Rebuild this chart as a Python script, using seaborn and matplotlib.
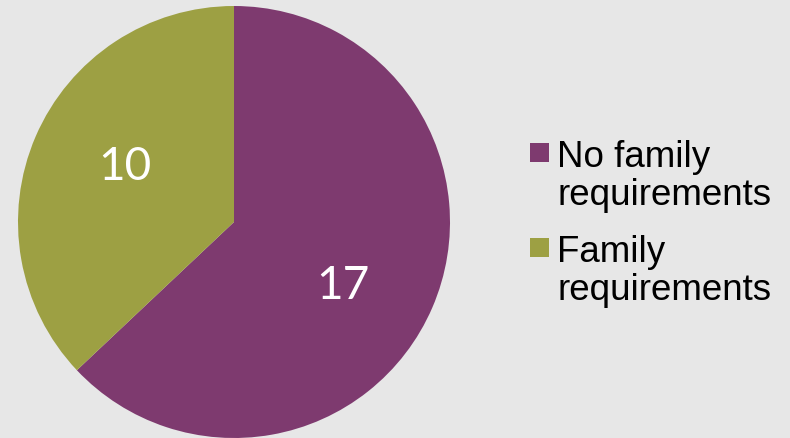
import matplotlib
matplotlib.use("Agg")
import numpy as np
import matplotlib.pyplot as plt
from matplotlib.patches import Rectangle
import seaborn as sns

categories = ["No family\nrequirements", "Family\nrequirements"]
counts = [17, 10]
colors = ["#7E3A6F", "#9DA043"]

sns.set_theme(style="white")
plt.rcParams["font.family"] = ["Liberation Sans", "DejaVu Sans"]

W, H = 790, 438
bg = "#E7E7E7"
fig = plt.figure(figsize=(W / 100, H / 100), dpi=100, facecolor=bg)

# pie axes: square box of 432 px, left edge at x=18
ax = fig.add_axes([18 / W, 0 / H, 432 / W, 432 / H])
ax.set_facecolor(bg)
total = sum(counts)
wedges, texts, autotexts = ax.pie(
    counts,
    colors=colors,
    startangle=90,
    counterclock=False,
    autopct=lambda p: f"{round(p * total / 100):d}",
    wedgeprops=dict(linewidth=0),
    textprops=dict(color="white", fontsize=33, family=["Lato", "DejaVu Sans"]),
)
ax.set_xlim(-1, 1)
ax.set_ylim(-1, 1)
ax.set_aspect("equal")
ax.axis("off")

# value labels sit a little clockwise of each wedge's middle
label_r = 0.575
half_digit = 17.5 / 216  # half the digit height in data units
for w, t in zip(wedges, autotexts):
    ang = np.deg2rad((w.theta1 + w.theta2) / 2 - 5.5)
    t.set_position((label_r * np.cos(ang), label_r * np.sin(ang) - half_digit))
    t.set_va("baseline")
    t.set_ha("center")

# legend: square swatch next to the first line of each label
baselines = [167, 262]  # px from top, baseline of the first line
line_gap = 38
sq = 19
for label, col, yb in zip(categories, colors, baselines):
    fig.patches.append(Rectangle((530 / W, (H - yb + 5) / H), sq / W, sq / H,
                                 transform=fig.transFigure, facecolor=col, edgecolor="none"))
    for i, line in enumerate(label.split("\n")):
        fig.text(557 / W, (H - yb - i * line_gap) / H, line, fontsize=26.5, color="black",
                 va="baseline", ha="left")

fig.savefig("out.png", dpi=100, facecolor=bg)
